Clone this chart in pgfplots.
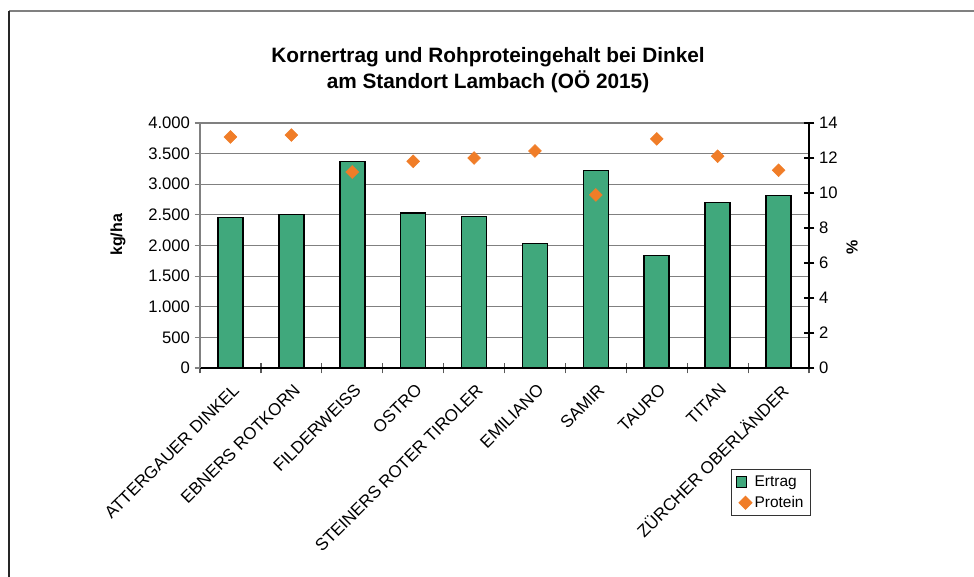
\documentclass[border=0pt]{standalone}
\usepackage{pgfplots}
\pgfplotsset{compat=1.18}
\usepackage{fontspec}
\setmainfont{Liberation Sans}
\definecolor{bargreen}{RGB}{64,168,124}
\definecolor{protorange}{RGB}{240,125,40}
\definecolor{gridgray}{RGB}{128,128,128}
\begin{document}
\begin{tikzpicture}
\useasboundingbox (0,0) rectangle (730.5pt,432.75pt);
\draw[gridgray, line width=1pt] (6.75pt,424.5pt) -- (730.5pt,424.5pt);
\draw[black!85, line width=1pt] (6.75pt,0pt) -- (6.75pt,424.5pt);
\node[anchor=base, font=\fontsize{15.6}{18}\selectfont\bfseries] at (366pt,386pt) {Kornertrag und Rohproteingehalt bei Dinkel};
\node[anchor=base, font=\fontsize{15.6}{18}\selectfont\bfseries] at (366pt,366.5pt) {am Standort Lambach (OÖ 2015)};
\node[rotate=90, font=\fontsize{12}{14}\selectfont\bfseries] at (88.5pt,256.5pt) {kg/ha};
\node[rotate=90, font=\fontsize{12}{14}\selectfont\bfseries] at (639pt,247.5pt) {\%};
\begin{axis}[
  at={(150pt,156.75pt)}, anchor=south west,
  scale only axis, width=456.75pt, height=183.75pt,
  xmin=-0.5, xmax=9.5, ymin=0, ymax=4000,
  axis y line*=left, axis x line*=bottom,
  ytick={0,500,...,4000},
  yticklabels={0,500,{1.000},{1.500},{2.000},{2.500},{3.000},{3.500},{4.000}},
  ymajorgrids, grid style={gridgray, line width=0.9pt},
  y axis line style={gridgray, line width=0.9pt},
  x axis line style={black, line width=0.9pt},
  xtick={0,...,9},
  xticklabels={ATTERGAUER DINKEL,EBNERS ROTKORN,FILDERWEISS,OSTRO,STEINERS ROTER TIROLER,EMILIANO,SAMIR,TAURO,TITAN,ZÜRCHER OBERLÄNDER},
  major x tick style={draw=none},
  minor xtick={-0.5,0.5,...,9.5},
  minor x tick style={black!65, line width=0.9pt},
  minor tick length=8pt,
  xtick align=center,
  ytick style={gridgray, line width=0.9pt},
  ytick align=outside, major tick length=4pt,
  xticklabel style={rotate=45, anchor=north east, font=\fontsize{12.8}{15}\selectfont, inner sep=1pt, yshift=-6pt, xshift=-4.6pt},
  yticklabel style={font=\fontsize{12.5}{14}\selectfont},
  /pgf/number format/assume math mode=true,
  clip=false,
]
\addplot[ybar, bar width=18.75pt, fill=bargreen, draw=black, line width=1.2pt] coordinates {
(0,2460) (1,2503) (2,3374) (3,2531) (4,2476) (5,2030) (6,3222) (7,1839) (8,2705) (9,2814)};
\end{axis}
\begin{axis}[
  at={(150pt,156.75pt)}, anchor=south west,
  scale only axis, width=456.75pt, height=183.75pt,
  xmin=-0.5, xmax=9.5, ymin=0, ymax=14,
  axis y line*=right, axis x line=none,
  ytick={0,2,...,14},
  y axis line style={black, line width=0.9pt},
  ytick style={black, line width=0.9pt},
  ytick align=center, major tick length=8pt,
  yticklabel style={font=\fontsize{12.5}{14}\selectfont},
  /pgf/number format/assume math mode=true,
  legend style={at={(0.872,-0.412)}, anchor=north west, draw=black!80, line width=0.8pt,
    font=\fontsize{11.6}{14}\selectfont, nodes={font=\fontsize{11.6}{14}\selectfont}, inner xsep=3pt, inner ysep=2.5pt, row sep=2pt},
  legend cell align=left,
  clip=false,
]
\addlegendimage{legend image code/.code={\draw[fill=bargreen, draw=black, line width=0.8pt] (1.5pt,-4pt) rectangle (9.5pt,4pt);}}
\addlegendentry{Ertrag}
\addplot[only marks, mark=square*, mark size=3.4pt, mark options={rotate=45, fill=protorange, draw=protorange}] coordinates {
(0,13.2) (1,13.31) (2,11.2) (3,11.81) (4,12.0) (5,12.4) (6,9.89) (7,13.09) (8,12.1) (9,11.3)};
\addlegendentry{Protein}
\end{axis}
\end{tikzpicture}
\end{document}
